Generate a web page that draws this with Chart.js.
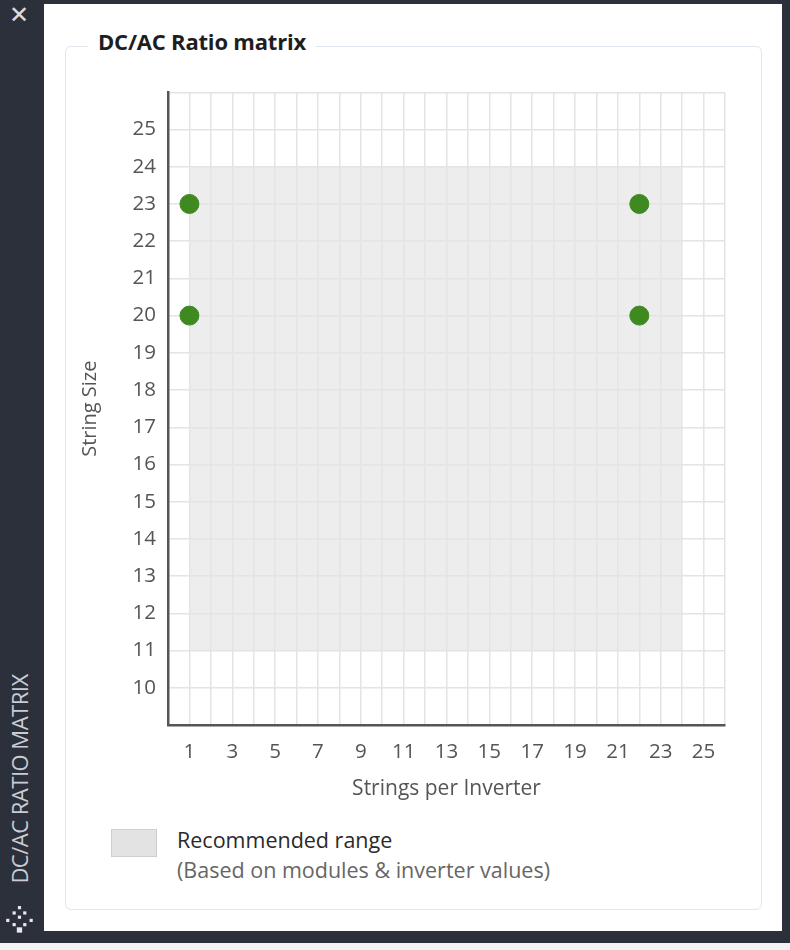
<!DOCTYPE html>
<html>
<head>
<meta charset="utf-8">
<script src="https://cdn.jsdelivr.net/npm/chart.js@4.4.1/dist/chart.umd.min.js"></script>
<style>
  html,body{margin:0;padding:0;}
  body{width:790px;height:950px;background:#2c303b;position:relative;overflow:hidden;font-family:"Open Sans","Noto Sans",sans-serif;}
  #panel{position:absolute;left:44px;top:4px;width:738px;height:927px;background:#fff;}
  #bottomStrip{position:absolute;left:0;top:943px;width:790px;height:7px;background:#f2f2f2;}
  #close{position:absolute;left:9px;top:1px;color:#d9dbe0;font-size:24px;font-weight:bold;font-family:"DejaVu Sans",sans-serif;}
  #sideTitle{position:absolute;left:19px;top:779px;transform:translate(-50%,-50%) rotate(-90deg);white-space:nowrap;color:#c9ccd4;font-size:22px;letter-spacing:-0.5px;}
  #dots{position:absolute;left:3px;top:905px;}
  #group{position:absolute;left:65px;top:46px;width:695px;height:862px;border:1.5px solid #e0e6ed;border-radius:6px;}
  #groupTitle{position:absolute;left:88px;top:26px;padding:0 10px;background:#fff;font-weight:bold;font-size:22px;letter-spacing:-0.2px;color:#1e1e1e;}
  #wrap{position:absolute;left:74px;top:68px;width:672px;height:736px;}
  #legendBox{position:absolute;left:111px;top:829px;width:44px;height:26px;background:#e3e3e3;border:1.5px solid #cfcfcf;}
  #legend1{position:absolute;left:177px;top:825px;font-size:21.5px;color:#2a2a2a;}
  #legend2{position:absolute;left:177px;top:855px;font-size:21.5px;color:#666;}
</style>
</head>
<body>
<div id="panel"></div>
<div id="bottomStrip"></div>
<div id="close">✕</div>
<div id="sideTitle">DC/AC RATIO MATRIX</div>
<svg id="dots" width="34" height="34" viewBox="0 0 32 32">
  <g fill="#e8e8ee">
    <rect x="14" y="1" width="3" height="3"/>
    <rect x="9" y="6" width="3" height="3"/><rect x="19" y="6" width="3" height="3"/>
    <rect x="14" y="10" width="3" height="3"/>
    <rect x="3" y="13" width="3" height="3"/><rect x="25" y="13" width="3" height="3"/>
    <rect x="9" y="17" width="3" height="3"/><rect x="19" y="17" width="3" height="3"/>
    <rect x="13" y="21" width="5" height="5"/>
  </g>
</svg>
<div id="group"></div>
<div id="groupTitle">DC/AC Ratio matrix</div>
<div id="wrap"><canvas id="c"></canvas></div>
<div id="legendBox"></div>
<div id="legend1">Recommended range</div>
<div id="legend2">(Based on modules &amp; inverter values)</div>
<script>
// ---- data ----
const xTickLabels = [1,3,5,7,9,11,13,15,17,19,21,23,25];
const yTickLabels = [10,11,12,13,14,15,16,17,18,19,20,21,22,23,24,25];
const xRange = [0, 26];
const yRange = [9, 26];
const pointsX = [1, 1, 22, 22];
const pointsY = [23, 20, 23, 20];
const recommendedX = [1, 24];
const recommendedY = [11, 24];

const rangePlugin = {
  id: 'rangeRect',
  beforeDraw(chart) {
    const {ctx, scales:{x, y}} = chart;
    const l = x.getPixelForValue(recommendedX[0]);
    const r = x.getPixelForValue(recommendedX[1]);
    const t = y.getPixelForValue(recommendedY[1]);
    const b = y.getPixelForValue(recommendedY[0]);
    ctx.save();
    ctx.fillStyle = '#ededed';
    ctx.fillRect(l, t, r - l, b - t);
    ctx.restore();
  }
};

const tickFont = {family: '"Open Sans","Noto Sans",sans-serif', size: 20.5};
const titleFont = {family: '"Open Sans","Noto Sans",sans-serif', size: 21};

new Chart(document.getElementById('c'), {
  type: 'scatter',
  data: {
    datasets: [{
      data: pointsX.map((v, i) => ({x: v, y: pointsY[i]})),
      backgroundColor: '#3e8a21',
      borderColor: '#3e8a21',
      pointRadius: 9.5,
      pointHoverRadius: 9.5
    }]
  },
  options: {
    responsive: true,
    maintainAspectRatio: false,
    animation: false,
    layout: {padding: {top: 3, right: 21, left: 0, bottom: 0}},
    plugins: {legend: {display: false}, tooltip: {enabled: false}},
    scales: {
      x: {
        type: 'linear', min: xRange[0], max: xRange[1],
        afterBuildTicks(scale) {
          const t = [];
          for (let v = xRange[0]; v <= xRange[1]; v++) t.push({value: v});
          scale.ticks = t;
        },
        afterFit(scale) { scale.height = 79; },
        ticks: {
          autoSkip: false, maxRotation: 0, padding: 15, color: '#555', font: tickFont,
          callback: v => xTickLabels.includes(v) ? String(v) : ''
        },
        grid: {color: '#e4e4e4', lineWidth: 1.5, drawTicks: false},
        border: {display: true, color: '#555', width: 2.5},
        title: {display: true, text: 'Strings per Inverter', color: '#555', font: titleFont, padding: {top: 4, bottom: 2}}
      },
      y: {
        type: 'linear', min: yRange[0], max: yRange[1],
        afterBuildTicks(scale) {
          const t = [];
          for (let v = yRange[0]; v <= yRange[1]; v++) t.push({value: v});
          scale.ticks = t;
        },
        afterFit(scale) { scale.width = 94; },
        ticks: {
          autoSkip: false, padding: 12, color: '#555', font: tickFont,
          callback: v => yTickLabels.includes(v) ? String(v) : ''
        },
        grid: {color: '#e4e4e4', lineWidth: 1.5, drawTicks: false},
        border: {display: true, color: '#555', width: 2.5},
        title: {display: true, text: 'String Size', color: '#555', font: {family: titleFont.family, size: 20}, padding: {top: 4, bottom: 4}}
      }
    }
  },
  plugins: [rangePlugin]
});
</script>
</body>
</html>
